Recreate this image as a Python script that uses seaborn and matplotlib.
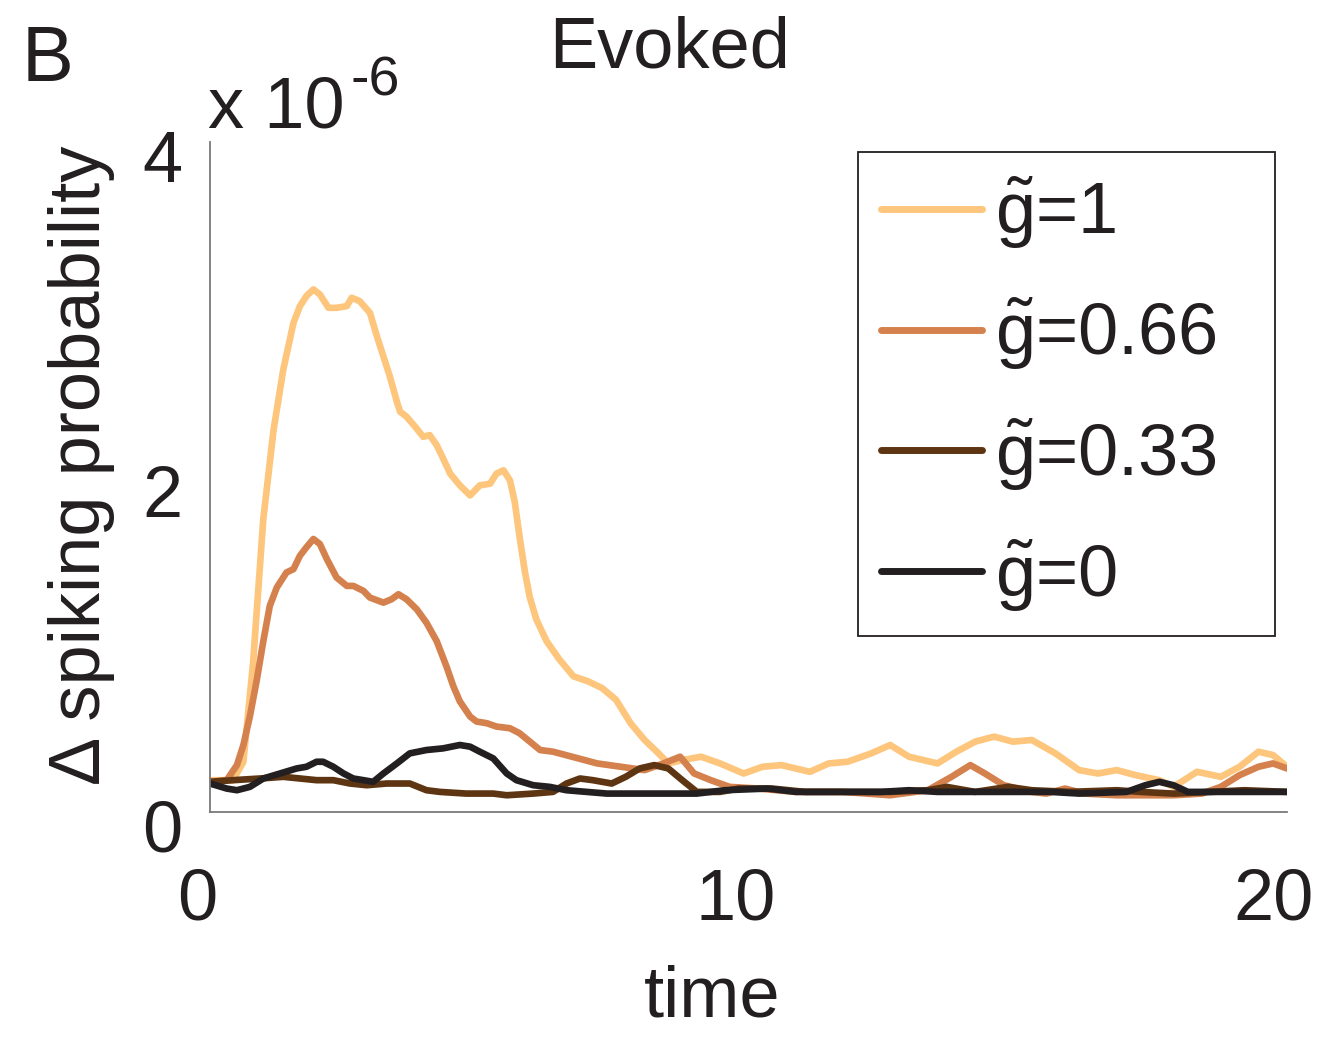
import matplotlib
matplotlib.use("Agg")
import matplotlib.pyplot as plt
from matplotlib.patches import Rectangle
from matplotlib.transforms import ScaledTranslation
import numpy as np
import pandas as pd
import seaborn as sns

# Change in spiking probability (units of 1e-6) after an evoked input,
# for four values of the normalised coupling g~.
t_g1 = [0, 0.43, 0.62, 0.80, 0.99, 1.18, 1.36, 1.55, 1.67, 1.79, 1.92, 2.04, 2.20, 2.35,
        2.54, 2.63, 2.78, 2.97, 3.09, 3.22, 3.34, 3.47, 3.53, 3.65, 3.81, 3.96, 4.08, 4.21,
        4.33, 4.46, 4.64, 4.83, 5.01, 5.20, 5.32, 5.45, 5.57, 5.66, 5.75, 5.85, 5.94, 6.06,
        6.25, 6.49, 6.75, 7.02, 7.28, 7.54, 7.81, 8.07, 8.33, 8.51, 8.77, 9.12, 9.47, 9.91,
        10.26, 10.61, 11.14, 11.49, 11.84, 12.28, 12.63, 12.98, 13.51, 13.86, 14.21, 14.56,
        14.91, 15.26, 15.70, 16.14, 16.49, 16.84, 17.19, 17.63, 17.89, 18.33, 18.77, 19.12,
        19.47, 19.74, 20.0]
v_g1 = [0.19, 0.19, 0.30, 0.89, 1.75, 2.28, 2.64, 2.92, 3.02, 3.08, 3.12, 3.09, 3.01, 3.01,
        3.02, 3.07, 3.05, 2.98, 2.85, 2.72, 2.60, 2.45, 2.39, 2.36, 2.30, 2.24, 2.25, 2.19,
        2.11, 2.02, 1.95, 1.89, 1.95, 1.96, 2.02, 2.04, 1.98, 1.85, 1.64, 1.43, 1.28, 1.15,
        1.02, 0.91, 0.81, 0.78, 0.74, 0.67, 0.53, 0.43, 0.35, 0.29, 0.31, 0.33, 0.29, 0.23,
        0.27, 0.28, 0.24, 0.29, 0.30, 0.35, 0.40, 0.33, 0.29, 0.36, 0.42, 0.45,
        0.42, 0.43, 0.35, 0.25, 0.23, 0.25, 0.22, 0.19, 0.15, 0.24, 0.21, 0.27,
        0.36, 0.34, 0.27]

t_g066 = [0, 0.31, 0.50, 0.62, 0.74, 0.87, 0.99, 1.11, 1.24, 1.42, 1.55, 1.67, 1.79, 1.92,
          2.04, 2.17, 2.35, 2.54, 2.66, 2.85, 2.97, 3.22, 3.37, 3.50, 3.65, 3.84, 4.02, 4.21,
          4.39, 4.52, 4.64, 4.83, 4.95, 5.14, 5.32, 5.57, 5.75, 5.94, 6.13, 6.37, 6.84, 7.19,
          7.63, 8.07, 8.42, 8.73, 8.99, 9.30, 9.65, 10.18, 10.88, 11.75, 12.63, 13.33, 13.77,
          14.12, 14.39, 14.74, 15.26, 15.53, 15.88, 16.23, 16.84, 17.46, 17.89, 18.42, 18.77,
          19.12, 19.47, 19.74, 20.0]
v_g066 = [0.18, 0.19, 0.28, 0.40, 0.57, 0.79, 1.02, 1.23, 1.34, 1.43, 1.45, 1.53, 1.58, 1.63,
          1.60, 1.51, 1.40, 1.35, 1.35, 1.32, 1.28, 1.25, 1.27, 1.30, 1.27, 1.21, 1.13, 1.02,
          0.87, 0.75, 0.66, 0.57, 0.54, 0.53, 0.51, 0.50, 0.47, 0.42, 0.37, 0.36, 0.32, 0.29,
          0.27, 0.25, 0.29, 0.33, 0.23, 0.19, 0.15, 0.14, 0.12, 0.12, 0.10, 0.13, 0.21,
          0.28, 0.23, 0.16, 0.12, 0.11, 0.14, 0.11, 0.10, 0.10, 0.10, 0.11, 0.15,
          0.22, 0.27, 0.29, 0.26]

t_g033 = [0, 0.43, 0.93, 1.36, 1.67, 1.98, 2.29, 2.60, 2.91, 3.28, 3.71, 4.02, 4.27, 4.76,
          5.26, 5.51, 6.00, 6.37, 6.62, 6.87, 7.11, 7.46, 7.72, 7.98, 8.25, 8.51, 8.77, 9.04,
          9.47, 9.82, 10.44, 11.05, 11.75, 12.63, 13.33, 13.68, 14.21, 14.82, 15.26, 15.96,
          16.84, 17.28, 17.89, 18.60, 19.21, 20.0]
v_g033 = [0.18, 0.19, 0.20, 0.21, 0.20, 0.19, 0.19, 0.17, 0.16, 0.17, 0.17, 0.13, 0.12, 0.11,
          0.11, 0.10, 0.11, 0.12, 0.17, 0.20, 0.19, 0.17, 0.21, 0.26, 0.28, 0.26, 0.19, 0.12,
          0.12, 0.14, 0.14, 0.12, 0.12, 0.12, 0.13, 0.15, 0.12, 0.15, 0.13, 0.12,
          0.13, 0.12, 0.11, 0.12, 0.13, 0.12]

t_g0 = [0, 0.31, 0.50, 0.74, 0.99, 1.30, 1.61, 1.79, 1.98, 2.10, 2.29, 2.48, 2.66, 2.85,
        3.03, 3.22, 3.47, 3.71, 4.02, 4.33, 4.64, 4.83, 5.01, 5.26, 5.51, 5.69, 6.00, 6.31,
        6.62, 7.37, 8.25, 9.04, 9.56, 10.35, 10.88, 11.75, 12.46, 12.98, 13.51, 14.04, 14.74,
        15.61, 16.14, 17.02, 17.37, 17.63, 17.89, 18.16, 18.60, 19.21, 20.0]
v_g0 = [0.17, 0.14, 0.13, 0.15, 0.20, 0.23, 0.26, 0.27, 0.30, 0.30, 0.27, 0.23, 0.20, 0.19,
        0.18, 0.23, 0.29, 0.35, 0.37, 0.38, 0.40, 0.39, 0.36, 0.32, 0.23, 0.19, 0.16, 0.15,
        0.13, 0.11, 0.11, 0.11, 0.13, 0.14, 0.12, 0.12, 0.12, 0.13, 0.12, 0.12, 0.12,
        0.12, 0.11, 0.12, 0.16, 0.18, 0.16, 0.12, 0.12, 0.12, 0.12]

labels = [r"$\tilde{\mathrm{g}}$=1", r"$\tilde{\mathrm{g}}$=0.66",
          r"$\tilde{\mathrm{g}}$=0.33", r"$\tilde{\mathrm{g}}$=0"]
colors = ["#FDC67C", "#D5814E", "#5E3513", "#231F20"]
x_ticks = [0, 10, 20]
y_ticks = [0, 2, 4]

sns.set_style("white")
plt.rcParams["font.family"] = ["Liberation Sans", "DejaVu Sans"]
plt.rcParams["mathtext.fontset"] = "custom"
plt.rcParams["mathtext.rm"] = "Liberation Sans"
plt.rcParams["mathtext.it"] = "Liberation Sans:italic"
plt.rcParams["mathtext.bf"] = "Liberation Sans:bold"
plt.rcParams["text.color"] = "#231F20"
plt.rcParams["axes.labelcolor"] = "#231F20"
plt.rcParams["xtick.color"] = "#231F20"
plt.rcParams["ytick.color"] = "#231F20"

frames = []
for lab, t, v in zip(labels, [t_g1, t_g066, t_g033, t_g0], [v_g1, v_g066, v_g033, v_g0]):
    frames.append(pd.DataFrame({"time": t, "dp": v, "g": lab}))
df = pd.concat(frames, ignore_index=True)

W, H = 1329, 1037
fig = plt.figure(figsize=(W / 100, H / 100), dpi=100)
ax = fig.add_axes([210 / W, 1 - 812 / H, (1287 - 210) / W, (812 - 142) / H])

sns.lineplot(data=df, x="time", y="dp", hue="g", hue_order=labels,
             palette=dict(zip(labels, colors)), sort=False, estimator=None,
             linewidth=4.8, ax=ax)

ax.set_xlim(0, 20)
ax.set_ylim(0, 4)
ax.set_xticks(x_ticks)
ax.set_yticks(y_ticks)
ax.set_xticklabels([str(v) for v in x_ticks])
ax.set_yticklabels([str(v) for v in y_ticks])

FS = 52
ax.tick_params(axis="both", direction="in", length=7, width=1.0, labelsize=FS,
               color="#7a7a7a")
ax.tick_params(axis="x", pad=40)
ax.tick_params(axis="y", pad=20)
for s in ["top", "right"]:
    ax.spines[s].set_visible(False)
for s in ["left", "bottom"]:
    ax.spines[s].set_color("#7a7a7a")
    ax.spines[s].set_linewidth(1.3)

# shift tick labels slightly, as in the original figure style
for lab in ax.get_xticklabels():
    lab.set_transform(lab.get_transform() + ScaledTranslation(-0.13, 0, fig.dpi_scale_trans))
for lab in ax.get_yticklabels():
    lab.set_transform(lab.get_transform() + ScaledTranslation(0, -0.14, fig.dpi_scale_trans))

ax.set_xlabel("time", fontsize=FS)
ax.xaxis.set_label_coords(0.466, -0.228)
ax.set_ylabel("\u0394 spiking probability", fontsize=FS)
ax.yaxis.set_label_coords(-0.088, 0.518)

# legend entries without their own frame; a wider box is drawn around them
handles, _ = ax.get_legend_handles_labels()
leg = ax.legend(handles[:4], labels, loc="upper left",
                bbox_to_anchor=(858 / W, 1 - 152 / H), bbox_transform=fig.transFigure,
                fontsize=FS, frameon=False, handlelength=1.39, handletextpad=0.18,
                labelspacing=0.62, borderpad=0.32, borderaxespad=0)
for ln in leg.get_lines():
    ln.set_linewidth(5)
fig.patches.append(Rectangle((858 / W, 1 - 636 / H), (1275 - 858) / W, (636 - 152) / H,
                             transform=fig.transFigure, fill=True, facecolor="none",
                             edgecolor="#231F20", linewidth=1.3, zorder=10))

fig.text(670 / W, 1 - 68 / H, "Evoked", ha="center", va="baseline", fontsize=FS)
fig.text(22 / W, 1 - 81 / H, "B", ha="left", va="baseline", fontsize=56)
fig.text(208 / W, 1 - 128 / H, "x 10", ha="left", va="baseline", fontsize=FS)
fig.text(350 / W, 1 - 96 / H, "-6", ha="left", va="baseline", fontsize=40)

fig.savefig("out.png", dpi=100, facecolor="white")
